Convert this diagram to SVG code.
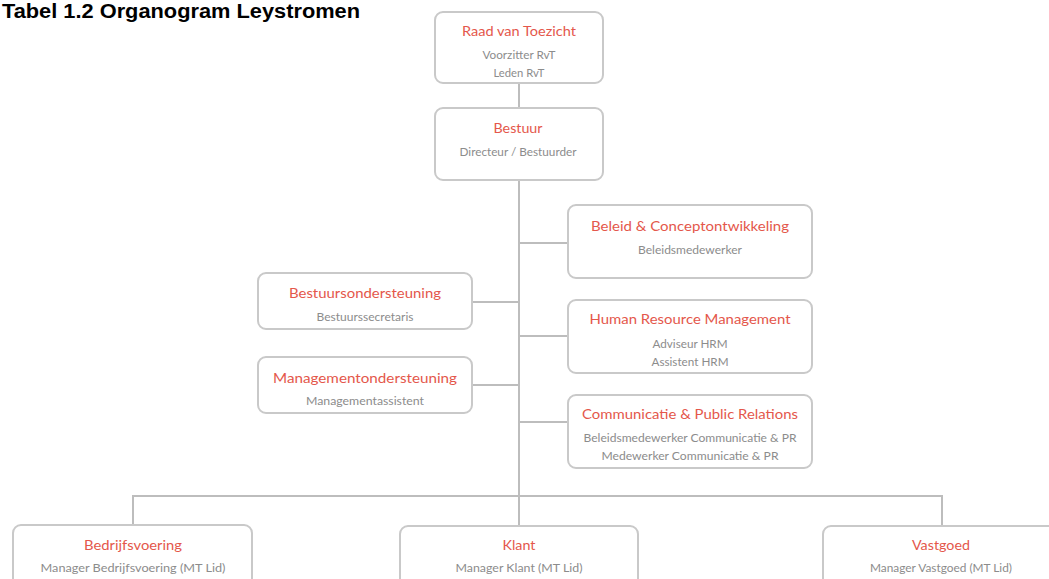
<svg xmlns="http://www.w3.org/2000/svg" width="1049" height="579" viewBox="0 0 1049 579">
<style>
.box{fill:#fff;stroke:#c9c9c9;stroke-width:2}
.ln{stroke:#bdbdbd;stroke-width:2;fill:none}
.t{font-family:Lato,"Noto Sans",sans-serif;font-size:14px;fill:#e4574b;text-anchor:middle}
.s{font-family:Lato,"Noto Sans",sans-serif;font-size:11px;fill:#8c8c8c;text-anchor:middle}
.h{font-family:"Liberation Sans",Arial,sans-serif;font-size:20px;font-weight:bold;fill:#000}
</style>
<rect width="1049" height="579" fill="#fff"/>
<text class="h" x="2" y="18" textLength="358" lengthAdjust="spacingAndGlyphs">Tabel 1.2 Organogram Leystromen</text>
<g id="connectors">
<line class="ln" x1="519" y1="83" x2="519" y2="108"/>
<line class="ln" x1="519" y1="180" x2="519" y2="526"/>
<line class="ln" x1="519" y1="243" x2="568" y2="243"/>
<line class="ln" x1="519" y1="336" x2="568" y2="336"/>
<line class="ln" x1="519" y1="422" x2="568" y2="422"/>
<line class="ln" x1="472" y1="302" x2="519" y2="302"/>
<line class="ln" x1="472" y1="385" x2="519" y2="385"/>
<polyline class="ln" points="133,525 133,496 942,496 942,526"/>
</g>
<g id="raad">
<rect class="box" x="435" y="12" width="168" height="71" rx="8"/>
<text class="t" x="519" y="36" textLength="114" lengthAdjust="spacingAndGlyphs">Raad van Toezicht</text>
<text class="s" x="519" y="59" textLength="73" lengthAdjust="spacingAndGlyphs">Voorzitter RvT</text>
<text class="s" x="519" y="77" textLength="51" lengthAdjust="spacingAndGlyphs">Leden RvT</text>
</g>
<g id="bestuur">
<rect class="box" x="435" y="108" width="168" height="72" rx="8"/>
<text class="t" x="518" y="133" textLength="49" lengthAdjust="spacingAndGlyphs">Bestuur</text>
<text class="s" x="518" y="156" textLength="117" lengthAdjust="spacingAndGlyphs">Directeur / Bestuurder</text>
</g>
<g id="beleid">
<rect class="box" x="568" y="205" width="244" height="73" rx="8"/>
<text class="t" x="690" y="231" textLength="198" lengthAdjust="spacingAndGlyphs">Beleid &amp; Conceptontwikkeling</text>
<text class="s" x="690" y="254" textLength="104" lengthAdjust="spacingAndGlyphs">Beleidsmedewerker</text>
</g>
<g id="hrm">
<rect class="box" x="568" y="300" width="244" height="73" rx="8"/>
<text class="t" x="690" y="324" textLength="201" lengthAdjust="spacingAndGlyphs">Human Resource Management</text>
<text class="s" x="690" y="348" textLength="75" lengthAdjust="spacingAndGlyphs">Adviseur HRM</text>
<text class="s" x="690" y="366" textLength="77" lengthAdjust="spacingAndGlyphs">Assistent HRM</text>
</g>
<g id="communicatie">
<rect class="box" x="568" y="395" width="244" height="73" rx="8"/>
<text class="t" x="690" y="419" textLength="216" lengthAdjust="spacingAndGlyphs">Communicatie &amp; Public Relations</text>
<text class="s" x="690" y="442" textLength="213" lengthAdjust="spacingAndGlyphs">Beleidsmedewerker Communicatie &amp; PR</text>
<text class="s" x="690" y="460" textLength="177" lengthAdjust="spacingAndGlyphs">Medewerker Communicatie &amp; PR</text>
</g>
<g id="bestuursondersteuning">
<rect class="box" x="258" y="273" width="214" height="56" rx="8"/>
<text class="t" x="365" y="298" textLength="152" lengthAdjust="spacingAndGlyphs">Bestuursondersteuning</text>
<text class="s" x="365" y="321" textLength="97" lengthAdjust="spacingAndGlyphs">Bestuurssecretaris</text>
</g>
<g id="managementondersteuning">
<rect class="box" x="258" y="357" width="214" height="56" rx="8"/>
<text class="t" x="365" y="383" textLength="184" lengthAdjust="spacingAndGlyphs">Managementondersteuning</text>
<text class="s" x="365" y="405" textLength="118" lengthAdjust="spacingAndGlyphs">Managementassistent</text>
</g>
<g id="bedrijfsvoering">
<rect class="box" x="13" y="525" width="239" height="70" rx="8"/>
<text class="t" x="133" y="550" textLength="98" lengthAdjust="spacingAndGlyphs">Bedrijfsvoering</text>
<text class="s" x="133" y="572" textLength="185" lengthAdjust="spacingAndGlyphs">Manager Bedrijfsvoering (MT Lid)</text>
</g>
<g id="klant">
<rect class="box" x="400" y="526" width="238" height="70" rx="8"/>
<text class="t" x="519" y="550" textLength="33" lengthAdjust="spacingAndGlyphs">Klant</text>
<text class="s" x="519" y="572" textLength="127" lengthAdjust="spacingAndGlyphs">Manager Klant (MT Lid)</text>
</g>
<g id="vastgoed">
<rect class="box" x="823" y="526" width="238" height="70" rx="8"/>
<text class="t" x="941" y="550" textLength="58" lengthAdjust="spacingAndGlyphs">Vastgoed</text>
<text class="s" x="941" y="572" textLength="142" lengthAdjust="spacingAndGlyphs">Manager Vastgoed (MT Lid)</text>
</g>
</svg>
